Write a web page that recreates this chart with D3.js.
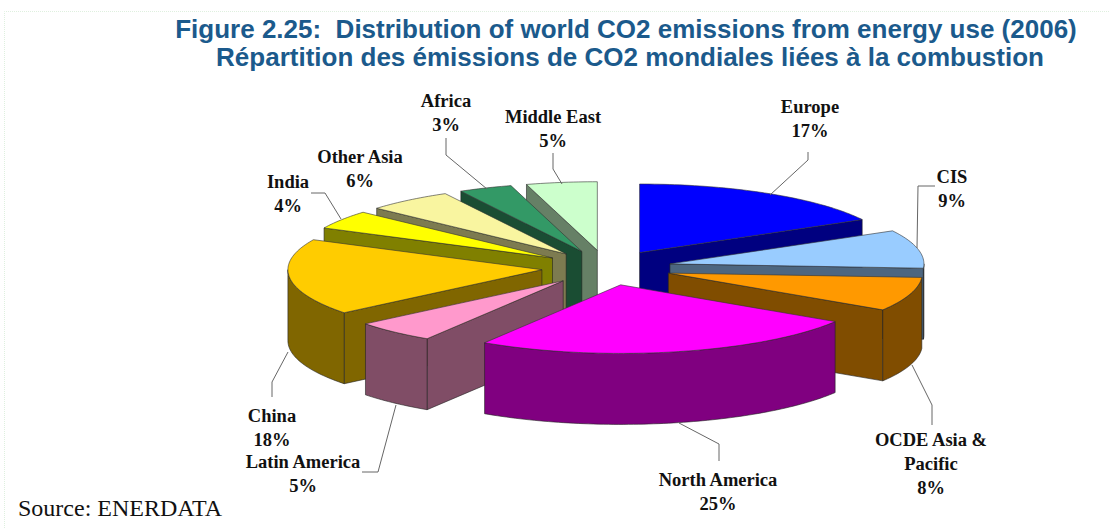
<!DOCTYPE html>
<html>
<head>
<meta charset="utf-8">
<script src="https://cdn.jsdelivr.net/npm/d3@7"></script>
<style>
  html, body { margin: 0; padding: 0; background: #fff; overflow: hidden; }
  .label { font-family: "Liberation Serif", serif; font-weight: bold; font-size: 18.5px; fill: #111; text-anchor: middle; }
  .title { font-family: "Liberation Sans", Arial, sans-serif; font-weight: bold; font-size: 26px; fill: #1b5a8c; text-anchor: middle; }
  .source { font-family: "Liberation Serif", serif; font-size: 24px; fill: #111; }
  .leader { fill: none; stroke: #666; stroke-width: 1; }
</style>
</head>
<body>
<div id="plot"></div>
<script>
const WIDTH = 1110;
const HEIGHT = 528;

// pie is laid flat then squashed
const CX = 606.5;
const CY = 267.7;
const RADIUS = 254;
const TILT = 0.27;
const DEPTH = 71;
const EXPLODE = 65;

const categories = ["Europe", "CIS", "OCDE Asia & Pacific", "North America", "Latin America", "China", "India", "Other Asia", "Africa", "Middle East"];
// labels show them rounded
const shares = [17, 9, 8, 25, 5.2, 18, 4.4, 5.5, 3.4, 4.5];
const colors = ["#0000ff", "#99ccff", "#ff9900", "#ff00ff", "#ff99cc", "#ffcc00", "#ffff00", "#f9f5a0", "#339966", "#ccffcc"];

// painter's order, back slices first
const drawOrder = ["Europe", "Middle East", "Africa", "Other Asia", "India", "CIS", "China", "OCDE Asia & Pacific", "Latin America", "North America"];

const labelRows = [
  {lines: ["Europe"], x: 810, y: 113},
  {lines: ["CIS"], x: 952, y: 183},
  {lines: ["OCDE Asia &", "Pacific"], x: 931, y: 446},
  {lines: ["North America"], x: 718, y: 486},
  {lines: ["Latin America"], x: 303, y: 468},
  {lines: ["China"], x: 272, y: 422},
  {lines: ["India"], x: 288, y: 188},
  {lines: ["Other Asia"], x: 360, y: 163},
  {lines: ["Africa"], x: 446, y: 107},
  {lines: ["Middle East"], x: 553, y: 123}
];

const leaders = [
  [[770, 195], [808, 160], [808, 152]],
  [[917, 248], [918, 186], [935, 186]],
  [[912, 365], [932, 405], [932, 425]],
  [[679, 423], [719, 444], [719, 461]],
  [[396, 405], [378, 472], [362, 472]],
  [[288, 352], [272, 382], [272, 397]],
  [[341, 219], [325, 193], [311, 193]],
  [[487, 189], [446, 155], [446, 138]],
  [[562, 184], [553, 169], [553, 153]]
];

const svg = d3.select("#plot").append("svg")
  .attr("width", WIDTH)
  .attr("height", HEIGHT);

// faint page border from the source document
svg.append("path")
  .attr("d", "M4.5,528V11.5H1110")
  .attr("fill", "none")
  .attr("stroke", "#dff0df")
  .attr("stroke-dasharray", "1,1");

const titleLines = [
  {text: "Figure 2.25:  Distribution of world CO2 emissions from energy use (2006)", x: 626, y: 38},
  {text: "Répartition des émissions de CO2 mondiales liées à la combustion", x: 630, y: 66}
];
svg.selectAll(".title").data(titleLines).enter().append("text")
  .attr("class", "title")
  .style("white-space", "pre")
  .attr("x", d => d.x)
  .attr("y", d => d.y)
  .text(d => d.text);

svg.append("text").attr("class", "source").attr("x", 18).attr("y", 516).text("Source: ENERDATA");

const pie = d3.pie().sort(null)(shares);

const X = d3.scaleLinear().domain([-1, 1]).range([CX - RADIUS, CX + RADIUS]);
const Y = d3.scaleLinear().domain([-1, 1]).range([CY - RADIUS * TILT, CY + RADIUS * TILT]);

const halfTone = (c) => {
  const rgb = d3.rgb(c);
  return d3.rgb(rgb.r / 2, rgb.g / 2, rgb.b / 2).formatHex();
};

// point of a slice at angle a, r in radius units, 0 at 12 o'clock going clockwise
const slicePoint = (p, a, r) => {
  const mid = (p.startAngle + p.endAngle) / 2;
  const off = EXPLODE / RADIUS;
  return [X(off * Math.sin(mid) + r * Math.sin(a)), Y(-off * Math.cos(mid) - r * Math.cos(a))];
};

const arcPoints = (p, a0, a1) => {
  const n = Math.max(2, Math.ceil((a1 - a0) / 0.02));
  return d3.range(n + 1).map(i => slicePoint(p, a0 + (a1 - a0) * i / n, 1));
};

const drop = (pts) => pts.map(q => [q[0], q[1] + DEPTH]);
const closed = (pts) => d3.line()(pts) + "Z";

const slices = svg.selectAll(".slice")
  .data(drawOrder.map(name => categories.indexOf(name)))
  .enter().append("g")
  .attr("class", "slice");

slices.each(function(i) {
  const p = pie[i];
  const g = d3.select(this);
  const wall = halfTone(colors[i]);
  const apex = slicePoint(p, p.startAngle, 0);
  const addWall = (pts) => g.append("path")
    .attr("d", closed(pts))
    .attr("fill", wall)
    .attr("stroke", "#222")
    .attr("stroke-width", 0.6);

  // cut faces, only when they turn toward the viewer
  if (Math.sin(p.startAngle) < 0) {
    const q = [apex, slicePoint(p, p.startAngle, 1)];
    addWall(q.concat(drop(q).reverse()));
  }
  if (Math.sin(p.endAngle) > 0) {
    const q = [apex, slicePoint(p, p.endAngle, 1)];
    addWall(q.concat(drop(q).reverse()));
  }
  // outer rim, front half only
  const a0 = Math.max(p.startAngle, Math.PI / 2);
  const a1 = Math.min(p.endAngle, 3 * Math.PI / 2);
  if (a1 > a0) {
    const q = arcPoints(p, a0, a1);
    addWall(q.concat(drop(q).reverse()));
  }
  // top
  g.append("path")
    .attr("d", closed([apex].concat(arcPoints(p, p.startAngle, p.endAngle))))
    .attr("fill", colors[i])
    .attr("stroke", "#333")
    .attr("stroke-width", 0.6);
});

svg.selectAll(".leader").data(leaders).enter().append("path")
  .attr("class", "leader")
  .attr("d", d3.line());

const labels = svg.selectAll(".label").data(labelRows).enter().append("text")
  .attr("class", "label")
  .attr("y", d => d.y);
labels.selectAll("tspan")
  .data((d, i) => d.lines.concat(Math.round(shares[i]) + "%").map(t => ({t, x: d.x})))
  .enter().append("tspan")
  .attr("x", d => d.x)
  .attr("dy", (d, i) => i ? 24 : 0)
  .text(d => d.t);
</script>
</body>
</html>
